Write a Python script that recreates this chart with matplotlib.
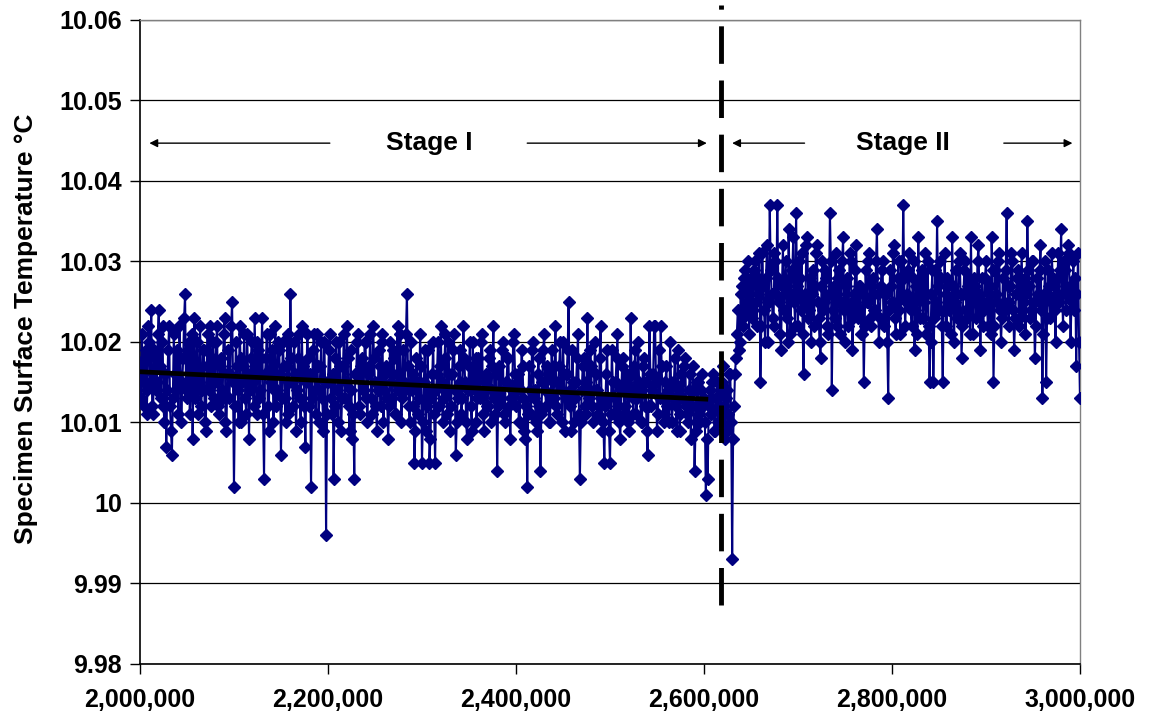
import numpy as np
import matplotlib
matplotlib.use("Agg")
import matplotlib.pyplot as plt
from matplotlib.ticker import FuncFormatter, MultipleLocator

plt.rcParams['font.family'] = ['Liberation Sans', 'DejaVu Sans']
plt.rcParams['font.weight'] = 'bold'
plt.rcParams['lines.scale_dashes'] = False

# Sampling of the record (cycles)
start_cycle = 2000000
step_cycle = 1000

# Temperatures, in thousandths of a degree above 10.000 °C
stage1_mK = [
    17, 13, 21, 16, 12, 18, 19, 11, 14, 22, 20, 15, 24, 12, 11, 19, 18, 14, 15, 21,
    24, 17, 13, 20, 22, 12, 10, 16, 7, 14, 19, 22, 12, 9, 6, 13, 21, 16, 14, 19,
    16, 11, 22, 18, 10, 15, 18, 23, 26, 14, 13, 19, 20, 11, 15, 21, 8, 16, 23, 13,
    17, 20, 11, 15, 22, 12, 14, 19, 19, 10, 9, 17, 21, 14, 16, 22, 12, 18, 20, 13,
    15, 20, 22, 12, 11, 17, 18, 14, 13, 21, 23, 10, 9, 16, 19, 13, 16, 22, 25, 15,
    2, 12, 20, 17, 14, 10, 22, 18, 10, 15, 17, 21, 13, 11, 21, 16, 8, 14, 18, 20,
    15, 12, 23, 17, 11, 20, 19, 13, 14, 18, 23, 11, 3, 16, 18, 21, 12, 9, 21, 15,
    16, 19, 10, 14, 22, 12, 14, 20, 19, 16, 6, 13, 20, 17, 13, 10, 17, 21, 11, 15,
    26, 18, 15, 12, 20, 16, 9, 14, 18, 21, 13, 10, 22, 17, 16, 12, 7, 15, 21, 18,
    12, 16, 2, 13, 19, 21, 14, 11, 21, 17, 10, 14, 17, 20, 13, 9, 20, 15, -4, 11,
    15, 19, 21, 13, 11, 16, 3, 12, 18, 20, 14, 10, 20, 17, 9, 13, 17, 21, 13, 15,
    22, 18, 12, 9, 19, 14, 8, 11, 3, 16, 16, 20, 21, 12, 11, 17, 18, 14, 14, 20,
    20, 13, 10, 16, 17, 21, 13, 11, 22, 18, 15, 12, 9, 14, 19, 17, 12, 20, 21, 10,
    14, 16, 17, 13, 8, 12, 20, 15, 13, 19, 18, 11, 11, 16, 22, 14, 15, 21, 10, 13,
    19, 15, 14, 21, 26, 17, 12, 10, 20, 14, 16, 12, 5, 9, 18, 15, 11, 13, 21, 17,
    5, 10, 15, 19, 9, 12, 19, 14, 5, 8, 13, 16, 20, 11, 5, 14, 16, 20, 12, 17,
    22, 15, 10, 13, 18, 21, 14, 11, 20, 16, 9, 12, 16, 19, 21, 14, 6, 10, 13, 17,
    19, 15, 11, 13, 22, 18, 15, 10, 8, 14, 17, 20, 12, 9, 20, 16, 14, 18, 10, 13,
    18, 14, 13, 20, 21, 11, 9, 15, 16, 12, 12, 18, 19, 10, 14, 17, 22, 13, 11, 16,
    4, 12, 17, 14, 13, 19, 20, 11, 10, 15, 15, 18, 18, 12, 8, 13, 14, 20, 21, 16,
    12, 15, 16, 10, 10, 14, 19, 17, 13, 9, 8, 12, 2, 11, 17, 14, 11, 19, 20, 13,
    14, 10, 9, 16, 18, 12, 4, 11, 15, 19, 21, 14, 12, 17, 16, 10, 10, 13, 19, 15,
    13, 17, 22, 12, 11, 15, 17, 20, 14, 10, 20, 16, 9, 13, 16, 19, 25, 14, 12, 9,
    19, 15, 10, 13, 15, 18, 21, 11, 3, 10, 14, 17, 18, 12, 11, 15, 23, 14, 13, 19,
    17, 12, 10, 14, 20, 16, 14, 11, 12, 18, 22, 13, 9, 10, 5, 12, 16, 19, 13, 9,
    5, 11, 19, 15, 11, 13, 15, 18, 21, 12, 10, 8, 14, 17, 18, 11, 12, 15, 16, 10,
    9, 14, 23, 16, 13, 11, 17, 19, 11, 13, 20, 15, 14, 10, 10, 17, 18, 12, 15, 9,
    6, 12, 22, 16, 12, 14, 16, 22, 22, 15, 9, 11, 19, 13, 22, 17, 13, 10, 11, 15,
    17, 12, 14, 10, 20, 15, 10, 13, 15, 18, 12, 9, 19, 14, 9, 11, 16, 13, 13, 17,
    18, 12, 11, 10, 14, 16, 8, 12, 17, 14, 4, 9, 12, 15, 15, 11, 10, 14, 16, 12,
    13, 10, 1, 8, 3, 12, 14, 11, 11, 15, 16, 9, 9, 13, 15, 10, 12,
]
stage2_mK = [
    14, 10, 15, 17, 12, 8, 13, 14, 9, 11, 16, 16, 10, -7, 8, 12, 16, 18, 21, 24,
    19, 20, 26, 27, 22, 23, 28, 29, 24, 25, 30, 21, 27, 28, 23, 24, 29, 30, 25, 22,
    28,
    26, 31, 15, 22, 31, 27, 24, 20, 28, 32, 20, 25, 37, 29, 26, 23, 22, 31, 30, 26,
    37, 28, 25, 21, 19, 27, 32, 24, 27, 30, 23, 20, 34, 28, 21, 26, 29, 33, 25, 22,
    36, 27, 22, 30, 28, 24, 31, 21, 16, 25, 26, 32, 33, 23, 24, 28, 20, 26, 29, 22,
    27, 31, 32, 25, 23, 20, 18, 27, 30, 24, 25, 29, 28, 22, 21, 26, 36, 30, 14, 24,
    27, 23, 31, 26, 22, 28, 29, 21, 25, 30, 33, 24, 20, 27, 28, 22, 24, 31, 30, 25,
    19, 23, 26, 29, 32, 24, 23, 27, 27, 21, 21, 26, 15, 22, 29, 25, 25, 30, 31, 23,
    22, 27, 28, 24, 24, 30, 34, 26, 20, 23, 27, 29, 30, 22, 23, 26, 26, 20, 13, 24,
    29, 27, 25, 31, 32, 23, 21, 25, 28, 30, 24, 21, 30, 26, 37, 28, 22, 25, 26, 29,
    31, 25, 24, 22, 28, 30, 19, 24, 27, 21, 33, 26, 23, 28, 29, 23, 25, 31, 21, 26,
    30, 22, 15, 20, 26, 29, 15, 23, 29, 25, 35, 27, 24, 30, 28, 22, 15, 24, 31, 26,
    22, 28, 27, 24, 25, 21, 33, 27, 20, 25, 29, 23, 24, 30, 31, 26, 18, 22, 26, 29,
    30, 24, 23, 27, 28, 21, 33, 25, 21, 28, 27, 23, 25, 30, 32, 26, 19, 24, 28, 22,
    24, 28, 30, 25, 22, 26, 27, 21, 33, 29, 15, 22, 29, 26, 25, 30, 31, 24, 20, 23,
    28, 25, 24, 29, 36, 27, 22, 25, 27, 31, 30, 24, 19, 23, 26, 28, 29, 22, 23, 27,
    31, 24, 25, 28, 21, 26, 35, 29, 27, 23, 24, 30, 30, 25, 18, 22, 28, 26, 25, 29,
    32, 24, 13, 21, 26, 30, 15, 23, 29, 27, 23, 25, 31, 28, 27, 24, 20, 26, 28, 31,
    25, 29, 34, 26, 22, 30, 29, 24, 26, 32, 31, 27, 20, 25, 27, 30, 24, 28, 17, 26,
    31, 20, 13,
]

# Linear trend of stage I (end points)
trend_cycles = [2000000, 2602000]
trend_temp = [10.0163, 10.0129]

# Boundary between stages
boundary_cycle = 2618000

temps = 10.0 + np.array(stage1_mK + stage2_mK) / 1000.0
cycles = start_cycle + step_cycle * np.arange(len(temps))

fig = plt.figure(figsize=(11.5, 7.24), dpi=100)
ax = fig.add_axes([0.1217, 0.0829, 0.8174, 0.8895])

ax.plot(cycles, temps, '-', color='#000080', lw=1.5, marker='D', ms=6.5,
        mfc='#000080', mec='#000080', zorder=3)
ax.plot(trend_cycles, trend_temp, '-', color='black', lw=3.4, zorder=4)

# dashed boundary line (extends above the plot area like in the original)
ax.plot([boundary_cycle, boundary_cycle], [9.9873, 10.0619], color='black',
        lw=3.5, linestyle=(0, (27, 12)), clip_on=False, zorder=5)

ax.set_xlim(2000000, 3000000)
ax.set_ylim(9.98, 10.06)
ax.yaxis.set_major_locator(MultipleLocator(0.01))
ax.xaxis.set_major_locator(MultipleLocator(200000))
ax.xaxis.set_major_formatter(FuncFormatter(lambda v, p: f"{int(round(v)):,}"))
ax.yaxis.set_major_formatter(FuncFormatter(lambda v, p: "10" if abs(v - 10) < 1e-9 else f"{v:.2f}"))
ax.grid(axis='y', color='black', lw=0.9)
ax.set_axisbelow(True)

for side in ['top', 'right']:
    ax.spines[side].set_color('#808080')
    ax.spines[side].set_linewidth(1.0)
ax.spines['left'].set_linewidth(1.2)
ax.spines['bottom'].set_linewidth(1.2)
ax.tick_params(direction='out', length=7, width=1.0, labelsize=18, pad=6)
ax.tick_params(axis='x', pad=10)

ax.set_ylabel('Specimen Surface Temperature °C', fontsize=19, fontweight='bold')
ax.yaxis.set_label_coords(-0.108, 0.52)

# stage annotations
arrow = dict(arrowstyle='-|>', color='black', lw=1.0, mutation_scale=12, shrinkA=0, shrinkB=0)
ya = 10.0447
ax.annotate('', xy=(2010000, ya), xytext=(2202000, ya), arrowprops=arrow)
ax.annotate('', xy=(2603000, ya), xytext=(2412000, ya), arrowprops=arrow)
ax.annotate('', xy=(2630000, ya), xytext=(2707000, ya), arrowprops=arrow)
ax.annotate('', xy=(2992000, ya), xytext=(2919000, ya), arrowprops=arrow)
ax.text(2308000, ya, 'Stage I', ha='center', va='center', fontsize=19, fontweight='bold')
ax.text(2812000, ya, 'Stage II', ha='center', va='center', fontsize=19, fontweight='bold')

fig.savefig('out.png', dpi=100)
